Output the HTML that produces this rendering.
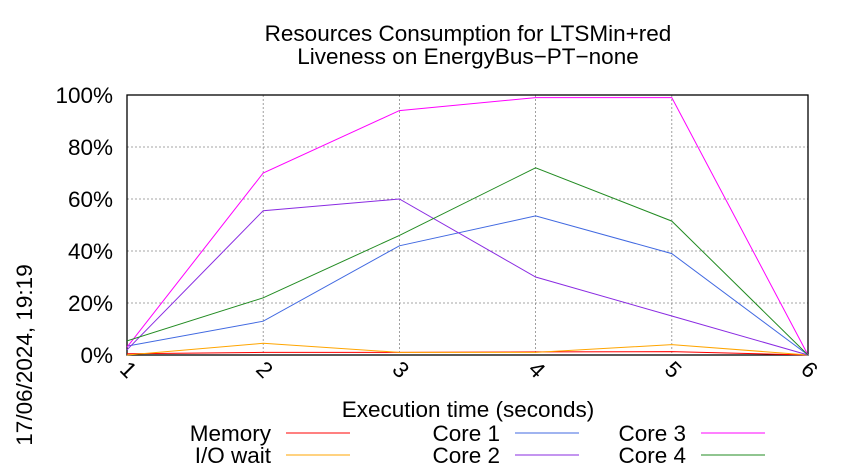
<!DOCTYPE html>
<html><head><meta charset="utf-8"><style>body{margin:0;background:#fff}svg{display:block;font-family:"Liberation Sans",sans-serif}</style></head>
<body>
<svg id="chart" width="850" height="475">
<text x="468" y="41" font-size="22.5" text-anchor="middle">Resources Consumption for LTSMin+red</text>
<text x="468" y="64" font-size="22.5" text-anchor="middle">Liveness on EnergyBus−PT−none</text>
<text transform="translate(32,355) rotate(-90)" font-size="22.5" text-anchor="middle">17/06/2024, 19:19</text>
<text x="468" y="417" font-size="22.5" text-anchor="middle">Execution time (seconds)</text>
<g id="grid"></g><g id="series"></g><g id="legend"></g>
</svg>
<script>
const xTicks=[1,2,3,4,5,6];
const yTicks=[0,20,40,60,80,100];
const seriesNames=["Memory","I/O wait","Core 1","Core 2","Core 3","Core 4"];
const seriesColors=["#ff0000","#ffa500","#4169e1","#8a2be2","#ff00ff","#228b22"];
const memory=[0.5,1,1,1.2,1.3,0];
const ioWait=[0,4.5,1,1,4,0];
const core1=[3.4,13,42,53.5,39,0];
const core2=[2,55.5,60,30,15,0];
const core3=[3,70,94,99,99,0];
const core4=[5.4,22,46,72,51.5,0];
const allSeries=[memory,ioWait,core1,core2,core3,core4];
const X0=127,X1=808,Y0=355,Y1=95;
const xs=v=>X0+(v-1)*(X1-X0)/5, ys=v=>Y0-v*(Y0-Y1)/100;
const NS="http://www.w3.org/2000/svg";
function mk(t,a,p){const e=document.createElementNS(NS,t);for(const k in a)e.setAttribute(k,a[k]);p.appendChild(e);return e;}
const g=document.getElementById('grid');
yTicks.forEach(v=>{
 const l=mk('line',{x1:X0,x2:X1,y1:ys(v),y2:ys(v),stroke:'#888','stroke-dasharray':'2,2','stroke-width':0.8},g);
 
 
 const t=mk('text',{x:X0-14,y:ys(v)+8,'font-size':22.5,'text-anchor':'end'},g);t.textContent=v+'%';
 
 
});
xTicks.forEach(v=>{
 const l=mk('line',{x1:xs(v),x2:xs(v),y1:Y1,y2:Y0,stroke:'#888','stroke-dasharray':'2,2','stroke-width':0.8},g);
 
 
 const t=mk('text',{transform:`translate(${xs(v)-4},${Y0+20}) rotate(45)`,'font-size':22.5,'text-anchor':'middle'},g);t.textContent=v;
 
 
});
const fr=mk('rect',{x:X0,y:Y1,width:X1-X0,height:Y0-Y1,fill:'none',stroke:'#000','stroke-width':1.3},g);


const s=document.getElementById('series');
allSeries.forEach((d,i)=>{
 const p=mk('polyline',{points:d.map((v,j)=>xs(xTicks[j])+','+ys(v)).join(' '),fill:'none',stroke:seriesColors[i],'stroke-width':1},s);
 
 
});
const lg=document.getElementById('legend');
const lx=[271,500,686],ly=[433,455];
const order=[[0,0,0],[1,0,1],[2,1,0],[3,1,1],[4,2,0],[5,2,1]];
order.forEach(([i,c,r])=>{
 const t=mk('text',{x:lx[c],y:ly[r]+8,'font-size':22.5,'text-anchor':'end'},lg);t.textContent=seriesNames[i];
 
 
 const l=mk('line',{x1:lx[c]+15,x2:lx[c]+79,y1:ly[r],y2:ly[r],stroke:seriesColors[i],'stroke-width':1},lg);
 
 
});
</script>
</body></html>
